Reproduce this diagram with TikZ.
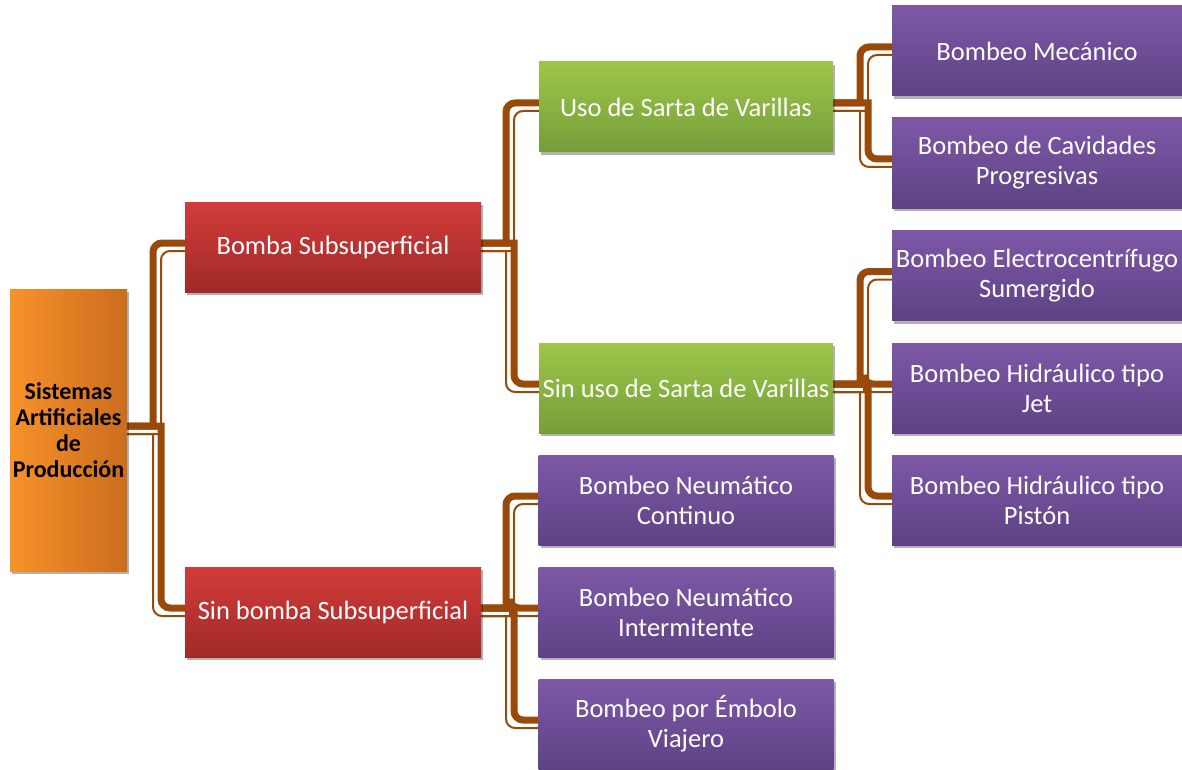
\documentclass[tikz,border=0pt]{standalone}
\usepackage{fontspec}
\setmainfont{Carlito}
\usetikzlibrary{shadows,backgrounds}
\definecolor{cafe}{RGB}{153,74,10}
\definecolor{rojoa}{RGB}{210,60,58}
\definecolor{rojob}{RGB}{160,42,40}
\definecolor{verdea}{RGB}{157,198,74}
\definecolor{verdeb}{RGB}{117,158,58}
\definecolor{moradoa}{RGB}{126,88,167}
\definecolor{moradob}{RGB}{94,66,132}
\definecolor{naranjaa}{RGB}{247,146,42}
\definecolor{naranjab}{RGB}{204,108,30}
\begin{document}
\begin{tikzpicture}[x=1pt, y=-1pt,
    caja/.style={minimum height=90pt, inner sep=0pt, align=center, text=white,
        font=\fontsize{26.5}{30}\selectfont,
        drop shadow={shadow xshift=2pt, shadow yshift=-3pt, opacity=.3, fill=black}},
    roja/.style={caja, minimum width=296pt, top color=rojoa, bottom color=rojob},
    verde/.style={caja, minimum width=294pt, top color=verdea, bottom color=verdeb},
    morada/.style={caja, minimum width=295pt, top color=moradoa, bottom color=moradob},
    moradader/.style={morada, minimum width=290pt},
    conector/.style={draw=cafe}]
    \useasboundingbox (0, 0) rectangle (1182, 770);
    % raiz
    \node [caja, minimum width=117pt, minimum height=282pt, text=black,
        left color=naranjaa, right color=naranjab,
        font=\bfseries\fontsize{24}{26}\selectfont] (sap) at (68.5, 430)
        {Sistemas\\Artificiales\\de\\Producción};
    % primer nivel
    \node [roja] (conbomba) at (333, 247) {Bomba Subsuperficial};
    \node [roja] (sinbomba) at (333, 612) {Sin bomba Subsuperficial};
    % segundo nivel
    \node [verde] (consarta) at (686, 107) {Uso de Sarta de Varillas};
    \node [verde] (sinsarta) at (686, 388) {Sin uso de Sarta de Varillas};
    \node [morada] (continuo) at (686, 500) {Bombeo Neumático\\Continuo};
    \node [morada] (intermitente) at (686, 612) {Bombeo Neumático\\Intermitente};
    \node [morada] (embolo) at (686, 724) {Bombeo por Émbolo\\Viajero};
    % tercer nivel
    \node [moradader] (mecanico) at (1037, 51) {Bombeo Mecánico};
    \node [moradader] (cavidades) at (1037, 163) {Bombeo de Cavidades\\Progresivas};
    \node [moradader] (electro) at (1037, 275.5) {Bombeo Electrocentrífugo\\Sumergido};
    \node [moradader] (jet) at (1037, 388) {Bombeo Hidráulico tipo\\Jet};
    \node [moradader] (piston) at (1037, 500) {Bombeo Hidráulico tipo\\Pistón};
    \coordinate (t1) at (157, 0);
    \coordinate (t2) at (510, 0);
    \coordinate (t3) at (864, 0);
    % conectores: linea gruesa y linea fina
    \begin{pgfonlayer}{background}
        \foreach \ancho/\s in {7/1, 2/-1}
            \foreach \de/\tronco/\a/\dir in {sap/t1/conbomba/1, sap/t1/sinbomba/-1,
                    conbomba/t2/consarta/1, conbomba/t2/sinsarta/-1,
                    sinbomba/t2/continuo/1, sinbomba/t2/intermitente/0,
                    sinbomba/t2/embolo/-1, consarta/t3/mecanico/1,
                    consarta/t3/cavidades/-1, sinsarta/t3/electro/1,
                    sinsarta/t3/jet/0, sinsarta/t3/piston/-1}
                \draw [conector, line width=\ancho pt,
                    transform canvas={shift={({-4pt*(\dir)*(\s)}, {4pt*(\s)})}}]
                    ([xshift=-6pt]\de.east) -- (\de.east -| \tronco)
                    [rounded corners=9pt] -- (\tronco |- \a.west)
                    -- ([xshift=6pt]\a.west);
    \end{pgfonlayer}
\end{tikzpicture}
\end{document}
